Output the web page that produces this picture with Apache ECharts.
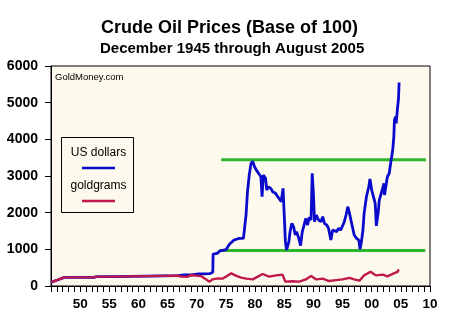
<!DOCTYPE html>
<html>
<head>
<meta charset="utf-8">
<script src="https://cdn.jsdelivr.net/npm/echarts@6/dist/echarts.min.js"></script>
<style>
html,body{margin:0;padding:0;background:#fff;}
#chart{width:467px;height:324px;}
</style>
</head>
<body>
<div id="chart"></div>
<script>
// ---- Data (x in axis years, y = index, base 100) ----
var blueYears = [1945.0, 1946.1, 1947.3, 1952.4, 1952.8, 1956.1, 1956.4, 1966.7, 1967.0, 1967.9, 1969.0, 1970.1, 1972.2, 1972.75, 1972.8, 1973.5, 1973.9, 1975.0, 1975.6, 1976.4, 1977.3, 1978.0, 1978.3, 1978.45, 1978.7, 1979.0, 1979.3, 1979.6, 1979.9, 1980.2, 1980.4, 1980.7, 1981.0, 1981.2, 1981.4, 1981.8, 1982.0, 1982.3, 1982.7, 1983.0, 1983.5, 1983.9, 1984.2, 1984.5, 1984.6, 1984.8, 1985.0, 1985.2, 1985.4, 1985.8, 1986.0, 1986.3, 1986.6, 1986.9, 1987.1, 1987.5, 1987.8, 1988.1, 1988.4, 1988.7, 1989.0, 1989.3, 1989.6, 1989.8, 1990.0, 1990.2, 1990.5, 1990.9, 1991.3, 1991.6, 1991.9, 1992.3, 1992.6, 1993.0, 1993.3, 1993.6, 1994.0, 1994.3, 1994.7, 1995.3, 1995.6, 1995.9, 1996.2, 1996.5, 1996.8, 1997.0, 1997.4, 1997.8, 1998.0, 1998.2, 1998.5, 1998.7, 1999.1, 1999.5, 1999.7, 2000.0, 2000.3, 2000.6, 2000.8, 2001.1, 2001.3, 2001.8, 2002.1, 2002.2, 2002.6, 2002.7, 2003.0, 2003.3, 2003.6, 2003.8, 2003.9, 2004.1, 2004.2, 2004.4, 2004.6, 2004.7];
var blueValues = [100, 164, 236, 236, 255, 255, 282, 282, 282, 300, 300, 327, 335, 373, 870, 890, 950, 990, 1136, 1254, 1300, 1300, 1340, 1936, 2572, 3027, 3345, 3400, 3254, 3218, 3118, 3163, 2981, 2435, 3027, 2936, 2618, 2700, 2663, 2572, 2527, 2435, 2481, 2300, 2435, 2663, 1936, 1209, 982, 1209, 1481, 1710, 1620, 1390, 1481, 1300, 1100, 1481, 1663, 1845, 1663, 1872, 1800, 3073, 2527, 1754, 1936, 1800, 1754, 1890, 1710, 1663, 1572, 1254, 1527, 1572, 1482, 1572, 1527, 1754, 1936, 2163, 1980, 1754, 1710, 1390, 1300, 1254, 1000, 1163, 1527, 1982, 2435, 2708, 2920, 2618, 2435, 2254, 1640, 1982, 2345, 2618, 2800, 2481, 2890, 2980, 3070, 3400, 3700, 4072, 4527, 4618, 4436, 4800, 5118, 5550];

var redYears = [1945.0, 1946.1, 1947.3, 1952.4, 1952.8, 1956.1, 1956.4, 1966.7, 1967.3, 1968.4, 1969.0, 1969.8, 1970.7, 1971.3, 1972.2, 1972.7, 1973.6, 1974.4, 1975.0, 1975.9, 1976.7, 1977.6, 1978.5, 1979.6, 1981.3, 1982.4, 1983.6, 1984.7, 1985.2, 1986.4, 1987.6, 1988.7, 1989.6, 1990.5, 1991.6, 1992.7, 1993.9, 1995.0, 1996.2, 1997.0, 1997.9, 1998.7, 1999.8, 2000.7, 2001.9, 2002.7, 2003.6, 2004.5, 2004.6];
var redValues = [100, 164, 236, 236, 255, 255, 282, 282, 260, 250, 300, 282, 270, 209, 118, 182, 209, 200, 255, 345, 282, 230, 200, 182, 327, 255, 290, 310, 118, 130, 118, 180, 272, 180, 200, 136, 160, 180, 220, 180, 145, 290, 390, 290, 310, 265, 330, 390, 455];

var upperBandYears = [1974.2, 2009.3];
var upperBandValues = [3440, 3440];
var lowerBandYears = [1973.9, 2009.2];
var lowerBandValues = [965, 965];

var xLabelYears = [1950, 1955, 1960, 1965, 1970, 1975, 1980, 1985, 1990, 1995, 2000, 2005, 2010];
var xLabelTexts = ['50', '55', '60', '65', '70', '75', '80', '85', '90', '95', '00', '05', '10'];

var seriesNames = ['US dollars', 'goldgrams'];
var titleText = 'Crude Oil Prices (Base of 100)';
var subtitleText = 'December 1945 through August 2005';
var sourceText = 'GoldMoney.com';

function zip(xs, ys) { return xs.map(function (x, i) { return [x, ys[i]]; }); }

var FONT = '"Liberation Sans", Arial, sans-serif';
var BLUE = '#0a0acc';
var RED = '#c0184a';
var GREEN = '#2fb52a';
var CREAM = '#fdf9ec';

var chart = echarts.init(document.getElementById('chart'), null, { renderer: 'canvas' });
chart.setOption({
  animation: false,
  backgroundColor: '#ffffff',
  title: [
    { text: titleText, left: 96, top: 13, textStyle: { fontFamily: FONT, fontSize: 18, fontWeight: 'bold', color: '#000', lineHeight: 20 } },
    { text: subtitleText, left: 95, top: 35, textStyle: { fontFamily: FONT, fontSize: 15, fontWeight: 'bold', color: '#000', lineHeight: 17 } }
  ],
  grid: {
    left: 51, top: 66, right: 37, bottom: 38,
    show: true, backgroundColor: CREAM, borderColor: '#000', borderWidth: 1
  },
  xAxis: {
    type: 'value', min: 1945, max: 2010, interval: 1,
    axisLine: { show: true, lineStyle: { color: '#000', width: 1 } },
    axisTick: { show: true, inside: false, length: 6, lineStyle: { color: '#000' } },
    splitLine: { show: false },
    axisLabel: {
      margin: 11, fontFamily: FONT, fontSize: 13.5, fontWeight: 'bold', color: '#000',
      showMinLabel: true, showMaxLabel: true,
      formatter: function (v) {
        var i = xLabelYears.indexOf(Math.round(v));
        return i >= 0 ? xLabelTexts[i] : '';
      }
    }
  },
  yAxis: {
    type: 'value', min: 0, max: 6000, interval: 1000,
    axisLine: { show: true, lineStyle: { color: '#000', width: 1 } },
    axisTick: { show: true, inside: false, length: 6, lineStyle: { color: '#000' } },
    splitLine: { show: false },
    axisLabel: {
      margin: 13, fontFamily: FONT, fontSize: 14, fontWeight: 'bold', color: '#000',
      formatter: function (v) { return String(Math.round(v)); }
    }
  },
  graphic: [
    { type: 'text', left: 55, top: 72, z: 10, style: { text: sourceText, fontFamily: FONT, fontSize: 9.5, fill: '#000' } },
    { type: 'rect', shape: { x: 61.5, y: 137.5, width: 72, height: 75 }, z: 10, style: { fill: CREAM, stroke: '#000', lineWidth: 1 } },
    { type: 'text', z: 11, x: 98.5, y: 153, style: { text: seriesNames[0], fontFamily: FONT, fontSize: 12, fill: '#000', align: 'center', verticalAlign: 'middle' } },
    { type: 'line', z: 11, shape: { x1: 82, y1: 168, x2: 115, y2: 168 }, style: { stroke: BLUE, lineWidth: 2.5 } },
    { type: 'text', z: 11, x: 98.5, y: 186, style: { text: seriesNames[1], fontFamily: FONT, fontSize: 12, fill: '#000', align: 'center', verticalAlign: 'middle' } },
    { type: 'line', z: 11, shape: { x1: 82, y1: 201, x2: 115, y2: 201 }, style: { stroke: RED, lineWidth: 2.5 } }
  ],
  series: [
    { type: 'line', name: 'upper', data: zip(upperBandYears, upperBandValues), symbol: 'none', lineStyle: { color: GREEN, width: 3 }, z: 2 },
    { type: 'line', name: 'lower', data: zip(lowerBandYears, lowerBandValues), symbol: 'none', lineStyle: { color: GREEN, width: 3 }, z: 2 },
    { type: 'line', name: seriesNames[0], data: zip(blueYears, blueValues), symbol: 'none', lineStyle: { color: BLUE, width: 2.8 }, z: 3 },
    { type: 'line', name: seriesNames[1], data: zip(redYears, redValues), symbol: 'none', lineStyle: { color: RED, width: 2.4 }, z: 4 }
  ]
});
</script>
</body>
</html>
